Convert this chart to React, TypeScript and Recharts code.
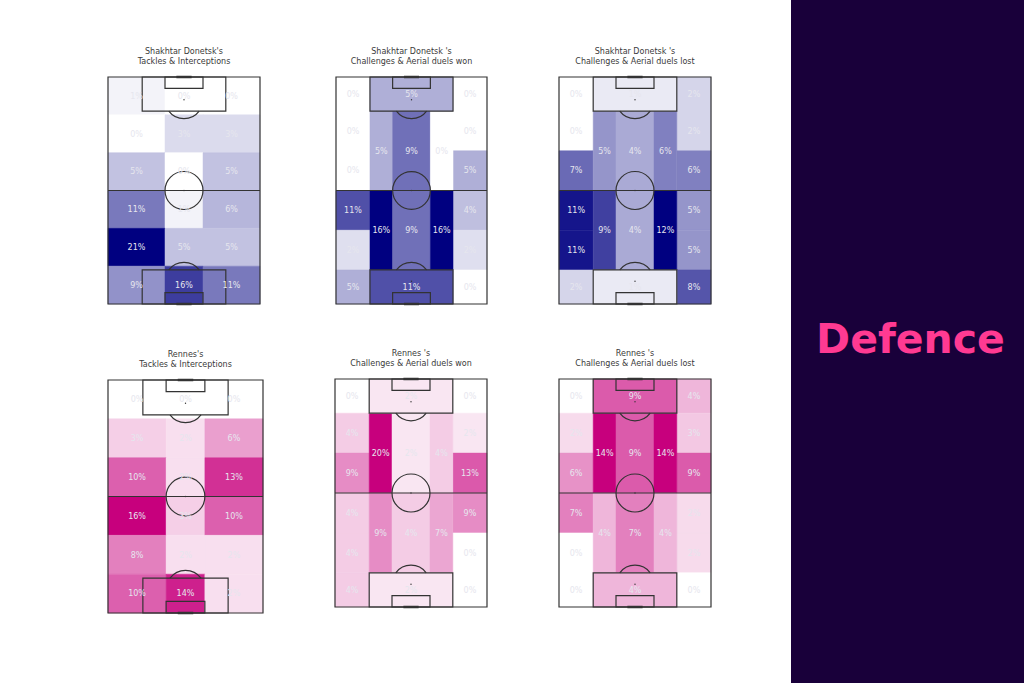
import { ScatterChart, Scatter, XAxis, YAxis, ReferenceArea, ReferenceLine, ReferenceDot } from "recharts";

// zone edges on a 80 x 120 pitch
const thirdEdgesX = [0, 30, 50, 80];
const thirdEdgesY = [0, 20, 40, 60, 80, 100, 120];
const laneEdgesX = [0, 18, 30, 50, 62, 80];
const laneEdgesY = [0, 18, 39, 60, 81, 102, 120];

// Tackles & interceptions: rows top to bottom, three columns
const shakhtarTackles = [
  [1, 0, 0],
  [0, 3, 3],
  [5, 0, 5],
  [11, 1, 6],
  [21, 5, 5],
  [9, 16, 11],
];
const rennesTackles = [
  [0, 0, 0],
  [3, 2, 6],
  [10, 2, 13],
  [16, 3, 10],
  [8, 2, 2],
  [10, 14, 2],
];

// Challenges & aerial duels: wings by row, inner lanes upper and lower half, both boxes
const shakhtarWon = {
  leftWing: [0, 0, 0, 11, 2, 5],
  rightWing: [0, 0, 5, 4, 2, 0],
  innerTop: [5, 9, 0],
  innerBottom: [16, 9, 16],
  boxTop: 5,
  boxBottom: 11,
};
const shakhtarLost = {
  leftWing: [0, 0, 7, 11, 11, 2],
  rightWing: [2, 2, 6, 5, 5, 8],
  innerTop: [5, 4, 6],
  innerBottom: [9, 4, 12],
  boxTop: 1,
  boxBottom: 1,
};
const rennesWon = {
  leftWing: [0, 4, 9, 4, 4, 4],
  rightWing: [0, 2, 13, 9, 0, 0],
  innerTop: [20, 2, 4],
  innerBottom: [9, 4, 7],
  boxTop: 2,
  boxBottom: 2,
};
const rennesLost = {
  leftWing: [0, 2, 6, 7, 0, 0],
  rightWing: [4, 3, 9, 2, 2, 0],
  innerTop: [14, 9, 14],
  innerBottom: [4, 7, 4],
  boxTop: 9,
  boxBottom: 4,
};

const spots = [
  { x: 40, y: 12 },
  { x: 40, y: 60 },
  { x: 40, y: 108 },
];

interface Zone {
  x1: number;
  x2: number;
  y1: number;
  y2: number;
  value: number;
}

const thirdZones = (rows: number[][]): Zone[] =>
  rows.flatMap((row, r) =>
    row.map((value, c) => ({
      x1: thirdEdgesX[c],
      x2: thirdEdgesX[c + 1],
      y1: thirdEdgesY[r],
      y2: thirdEdgesY[r + 1],
      value,
    }))
  );

const laneZones = (d: typeof shakhtarWon): Zone[] => {
  const X = laneEdgesX;
  const Y = laneEdgesY;
  const zones: Zone[] = [];
  d.leftWing.forEach((value, r) => zones.push({ x1: X[0], x2: X[1], y1: Y[r], y2: Y[r + 1], value }));
  d.rightWing.forEach((value, r) => zones.push({ x1: X[4], x2: X[5], y1: Y[r], y2: Y[r + 1], value }));
  d.innerTop.forEach((value, c) => zones.push({ x1: X[c + 1], x2: X[c + 2], y1: Y[1], y2: Y[3], value }));
  d.innerBottom.forEach((value, c) => zones.push({ x1: X[c + 1], x2: X[c + 2], y1: Y[3], y2: Y[5], value }));
  zones.push({ x1: X[1], x2: X[4], y1: Y[0], y2: Y[1], value: d.boxTop });
  zones.push({ x1: X[1], x2: X[4], y1: Y[5], y2: Y[6], value: d.boxBottom });
  return zones;
};

const NAVY = [0, 0, 128];
const PINK = [199, 0, 125];
const LINE = "#333333";
const LINE_W = 1.2;

const shade = (frac: number, rgb: number[]) => {
  const c = rgb.map((v) => Math.round(255 + (v - 255) * frac));
  return `rgb(${c[0]},${c[1]},${c[2]})`;
};

interface PitchProps {
  zones: Zone[];
  color: number[];
  title: string[];
  left: number;
  top: number;
  width: number;
  height: number;
}

const Pitch = ({ zones, color, title, left, top, width, height }: PitchProps) => {
  const pad = 2;
  const max = Math.max(...zones.map((z) => z.value));
  const sx = width / 80;
  const sy = height / 120;
  const arc = (dir: number) => (p: any) => {
    const x0 = p.cx - 8 * sx;
    const x1 = p.cx + 8 * sx;
    const y = p.cy + dir * 6 * sy;
    return (
      <path
        d={`M${x0},${y} A${10 * sx},${10 * sy} 0 0 ${dir > 0 ? 0 : 1} ${x1},${y}`}
        fill="none"
        stroke={LINE}
        strokeWidth={LINE_W}
      />
    );
  };
  return (
    <>
      <div
        style={{
          position: "absolute",
          left: left - 40,
          top: top - 30,
          width: width + 80,
          textAlign: "center",
          fontSize: 8,
          lineHeight: "9.5px",
          color: "#3a3a3a",
        }}
      >
        {title.map((t) => (
          <div key={t}>{t}</div>
        ))}
      </div>
      <div style={{ position: "absolute", left: left - pad, top: top - pad }}>
        <ScatterChart
          width={width + pad * 2}
          height={height + pad * 2}
          margin={{ top: pad, right: pad, bottom: pad, left: pad }}
        >
          <XAxis type="number" dataKey="x" domain={[0, 80]} hide />
          <YAxis type="number" dataKey="y" domain={[0, 120]} reversed hide />
          {zones.map((z) => (
            <ReferenceArea
              key={`${z.x1}-${z.y1}`}
              x1={z.x1}
              x2={z.x2}
              y1={z.y1}
              y2={z.y2}
              fill={shade(z.value / max, color)}
              fillOpacity={1}
              stroke={shade(z.value / max, color)}
              strokeWidth={0.5}
              label={{ value: `${z.value}%`, position: "center", fill: "#e6e6ee", fontSize: 8 }}
            />
          ))}
          <ReferenceArea x1={18} x2={62} y1={0} y2={18} fill="none" stroke={LINE} strokeWidth={LINE_W} fillOpacity={0} />
          <ReferenceArea x1={30} x2={50} y1={0} y2={6} fill="none" stroke={LINE} strokeWidth={LINE_W} fillOpacity={0} />
          <ReferenceArea x1={18} x2={62} y1={102} y2={120} fill="none" stroke={LINE} strokeWidth={LINE_W} fillOpacity={0} />
          <ReferenceArea x1={30} x2={50} y1={114} y2={120} fill="none" stroke={LINE} strokeWidth={LINE_W} fillOpacity={0} />
          <ReferenceArea x1={0} x2={80} y1={0} y2={120} fill="none" stroke={LINE} strokeWidth={LINE_W} fillOpacity={0} />
          <ReferenceLine segment={[{ x: 0, y: 60 }, { x: 80, y: 60 }]} stroke={LINE} strokeWidth={LINE_W} />
          <ReferenceLine segment={[{ x: 36, y: 0 }, { x: 44, y: 0 }]} stroke={LINE} strokeWidth={2.5} />
          <ReferenceLine segment={[{ x: 36, y: 120 }, { x: 44, y: 120 }]} stroke={LINE} strokeWidth={2.5} />
          <ReferenceDot x={40} y={60} r={10 * sx} fill="none" stroke={LINE} strokeWidth={LINE_W} />
          <ReferenceDot x={40} y={12} shape={arc(1)} />
          <ReferenceDot x={40} y={108} shape={arc(-1)} />
          <Scatter
            data={spots}
            isAnimationActive={false}
            shape={(p: any) => <circle cx={p.cx} cy={p.cy} r={0.7} fill={LINE} />}
          />
        </ScatterChart>
      </div>
    </>
  );
};

export default function App() {
  return (
    <div
      style={{
        position: "absolute",
        left: 0,
        top: 0,
        width: 1024,
        height: 683,
        background: "#fff",
        overflow: "hidden",
        fontFamily: "'DejaVu Sans', sans-serif",
      }}
    >
      <Pitch
        zones={thirdZones(shakhtarTackles)}
        color={NAVY}
        title={["Shakhtar Donetsk's", "Tackles & Interceptions"]}
        left={108}
        top={77}
        width={152}
        height={227}
      />
      <Pitch
        zones={laneZones(shakhtarWon)}
        color={NAVY}
        title={["Shakhtar Donetsk 's", "Challenges & Aerial duels won"]}
        left={336}
        top={77}
        width={151}
        height={227}
      />
      <Pitch
        zones={laneZones(shakhtarLost)}
        color={NAVY}
        title={["Shakhtar Donetsk 's", "Challenges & Aerial duels lost"]}
        left={559}
        top={77}
        width={152}
        height={227}
      />
      <Pitch
        zones={thirdZones(rennesTackles)}
        color={PINK}
        title={["Rennes's", "Tackles & Interceptions"]}
        left={108}
        top={380}
        width={155}
        height={233}
      />
      <Pitch
        zones={laneZones(rennesWon)}
        color={PINK}
        title={["Rennes 's", "Challenges & Aerial duels won"]}
        left={335}
        top={379}
        width={152}
        height={228}
      />
      <Pitch
        zones={laneZones(rennesLost)}
        color={PINK}
        title={["Rennes 's", "Challenges & Aerial duels lost"]}
        left={559}
        top={379}
        width={152}
        height={228}
      />
      <div
        style={{
          position: "absolute",
          left: 791,
          top: 0,
          width: 233,
          height: 683,
          background: "#19003a",
        }}
      />
      <div
        style={{
          position: "absolute",
          left: 794,
          top: 313,
          width: 233,
          textAlign: "center",
          fontSize: 41,
          lineHeight: "52px",
          fontWeight: 700,
          color: "#ff3a92",
        }}
      >
        Defence
      </div>
    </div>
  );
}
